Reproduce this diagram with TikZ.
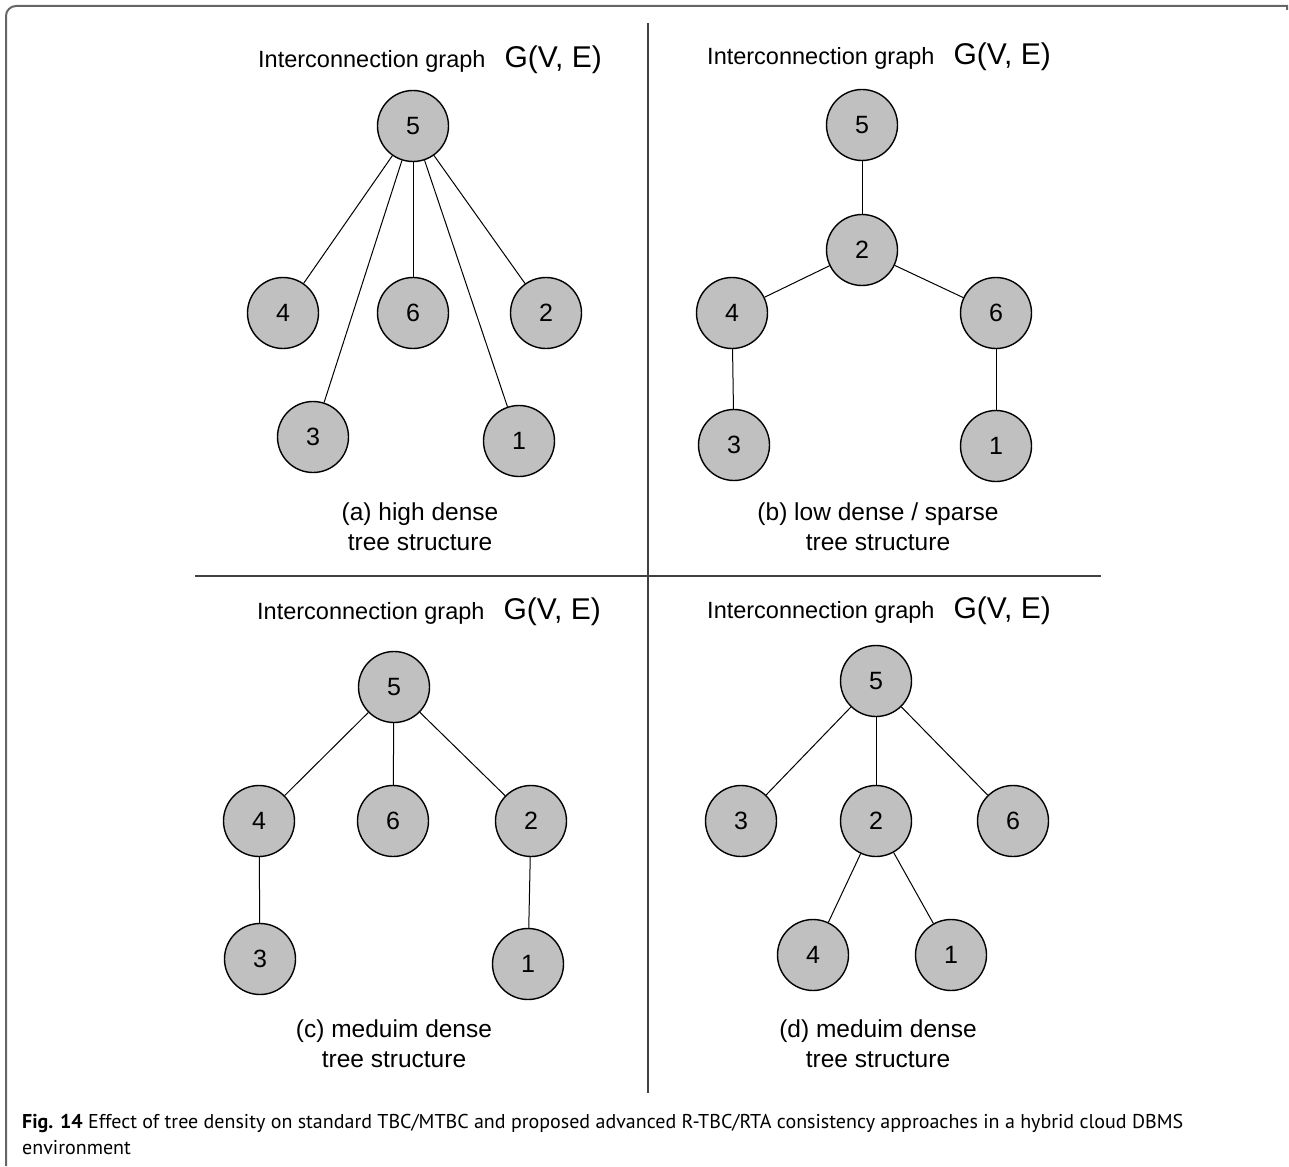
\documentclass[tikz,border=0pt]{standalone}
\usepackage{fontspec}
\setmainfont{Liberation Sans}
\newfontfamily\capfont{PT Sans}
\begin{document}
\begin{tikzpicture}[x=1pt,y=-1pt,
  vtx/.style={circle,draw=black,line width=1.4pt,fill=nodegray,minimum size=71pt,inner sep=0pt,font=\fontsize{25}{30}\selectfont},
  edge/.style={draw=black,line width=1pt},
  divider/.style={draw=black!75,line width=1.4pt},
  frameline/.style={draw=black!60,line width=2pt},
  ttl/.style={font=\fontsize{23.5}{28}\selectfont,inner sep=0pt,anchor=base},
  subcap/.style={font=\fontsize{24.5}{30}\selectfont,inner sep=0pt,align=center,anchor=north}]
\definecolor{nodegray}{HTML}{C0C0C0}
\useasboundingbox (0,0) rectangle (1289,1166);

% open frame: top and left sides with a rounded corner
\draw[frameline] (6,1166) -- (6,16) arc[start angle=180,end angle=270,radius=10] -- (1287,6) -- (1287,10);

% quadrant dividers
\draw[divider] (648,23) -- (648,1093);
\draw[divider] (195,576) -- (1101,576);

% titles
\newcommand{\gtitle}{Interconnection graph\hspace{19pt}{\fontsize{30}{32}\selectfont G(V, E)}}
\node[ttl] (ta) at (430,68) {\gtitle};
\node[ttl] (tb) at (879,65) {\gtitle};
\node[ttl] (tc) at (429,619) {\gtitle};
\node[ttl] (td) at (879,618) {\gtitle};

% (a) high dense
\node[vtx] (a5) at (413,126) {5};
\node[vtx] (a4) at (283,313) {4};
\node[vtx] (a6) at (413,313) {6};
\node[vtx] (a2) at (546,313) {2};
\node[vtx] (a3) at (313,437) {3};
\node[vtx] (a1) at (519,441) {1};
\foreach \t in {a4,a6,a2,a3,a1} \draw[edge] (a5) -- (\t);
\node[subcap] (ca) at (420,503) {(a) high dense\\tree structure};

% (b) low dense / sparse
\node[vtx] (b5) at (862,125) {5};
\node[vtx] (b2) at (862,250) {2};
\node[vtx] (b4) at (732,313) {4};
\node[vtx] (b6) at (996,313) {6};
\node[vtx] (b3) at (734,445) {3};
\node[vtx] (b1) at (996,446) {1};
\draw[edge] (b5) -- (b2);
\draw[edge] (b2) -- (b4);
\draw[edge] (b2) -- (b6);
\draw[edge] (b4) -- (b3);
\draw[edge] (b6) -- (b1);
\node[subcap] (cb) at (878,503) {(b) low dense / sparse\\tree structure};

% (c) medium dense
\node[vtx] (c5) at (394,687) {5};
\node[vtx] (c4) at (259,821) {4};
\node[vtx] (c6) at (393,821) {6};
\node[vtx] (c2) at (531,821) {2};
\node[vtx] (c3) at (260,959) {3};
\node[vtx] (c1) at (528,964) {1};
\draw[edge] (c5) -- (c4);
\draw[edge] (c5) -- (c6);
\draw[edge] (c5) -- (c2);
\draw[edge] (c4) -- (c3);
\draw[edge] (c2) -- (c1);
\node[subcap] (cc) at (394,1020) {(c) meduim dense\\tree structure};

% (d) medium dense
\node[vtx] (d5) at (876,681) {5};
\node[vtx] (d3) at (741,821) {3};
\node[vtx] (d2) at (876,821) {2};
\node[vtx] (d6) at (1013,821) {6};
\node[vtx] (d4) at (813,955) {4};
\node[vtx] (d1) at (951,955) {1};
\draw[edge] (d5) -- (d3);
\draw[edge] (d5) -- (d2);
\draw[edge] (d5) -- (d6);
\draw[edge] (d2) -- (d4);
\draw[edge] (d2) -- (d1);
\node[subcap] (cd) at (878,1020) {(d) meduim dense\\tree structure};

% figure caption
\node[inner sep=0pt,anchor=base west,font=\capfont\fontsize{20}{26}\selectfont] (fig1) at (22,1128)
  {\textbf{Fig. 14} Effect of tree density on standard TBC/MTBC and proposed advanced R-TBC/RTA consistency approaches in a hybrid cloud DBMS};
\node[inner sep=0pt,anchor=base west,font=\capfont\fontsize{20}{26}\selectfont] (fig2) at (22,1154) {environment};
\end{tikzpicture}
\end{document}
